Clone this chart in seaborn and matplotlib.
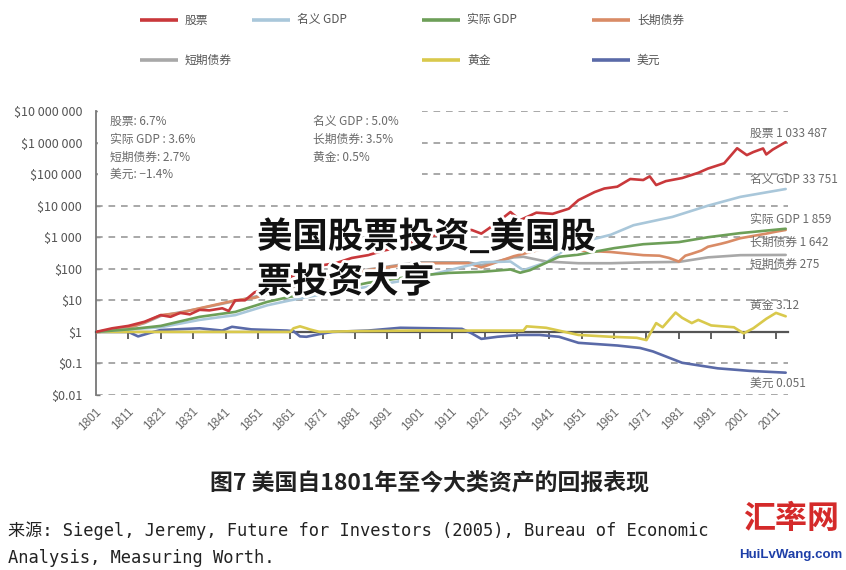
import matplotlib
matplotlib.use("Agg")
import matplotlib.pyplot as plt
import matplotlib.patheffects as pe
from matplotlib.lines import Line2D
from matplotlib.patches import Rectangle
from matplotlib.ticker import NullLocator
import seaborn as sns
import pandas as pd

# ---------------- data ----------------
series_names = ["美元", "黄金", "短期债券", "长期债券", "名义 GDP", "实际 GDP", "股票"]
series_colors = ["#5a6aa8", "#d9c94c", "#a8a8a8", "#d98b66", "#a9c7da", "#6d9f58", "#c9383b"]

stocks_years = [1801, 1806, 1811, 1816, 1821, 1824, 1827, 1830, 1833, 1836, 1840, 1842, 1844, 1847,
                1850, 1854, 1857, 1861, 1866, 1871, 1875, 1880, 1885, 1890, 1895, 1900, 1904, 1908,
                1913, 1917, 1920, 1922, 1925, 1929, 1932, 1937, 1942, 1947, 1950, 1955, 1958, 1962,
                1966, 1970, 1972, 1974, 1977, 1982, 1987, 1990, 1995, 1999, 2002, 2004, 2007, 2008,
                2010, 2014]
stocks = [1, 1.3, 1.55, 2.1, 3.4, 3.0, 4, 3.6, 5, 4.8, 5.6, 4.6, 10, 10,
          18, 24, 20, 55, 90, 130, 150, 220, 270, 380, 490, 800, 1000, 1350,
          1400, 1700, 1300, 1800, 3000, 6300, 3500, 6000, 5500, 8000, 15000, 27000, 35000, 40000,
          70000, 65000, 85000, 45000, 60000, 75000, 110000, 150000, 220000, 660000, 400000, 500000,
          650000, 420000, 600000, 1033487]

ngdp_years = [1801, 1811, 1821, 1833, 1844, 1854, 1861, 1870, 1885, 1900, 1910, 1920, 1929, 1933,
              1940, 1945, 1951, 1960, 1967, 1979, 1990, 2000, 2014]
ngdp = [1, 1.2, 1.4, 2.4, 3.4, 7, 10, 15, 27, 50, 90, 160, 170, 90,
        160, 350, 700, 1200, 2400, 4400, 10000, 19000, 33751]

rgdp_years = [1801, 1811, 1821, 1833, 1844, 1854, 1861, 1870, 1885, 1900, 1910, 1920, 1929, 1932,
              1935, 1944, 1950, 1961, 1970, 1981, 1990, 2000, 2014]
rgdp = [1, 1.2, 1.55, 3, 4.3, 9, 13, 17, 36, 60, 74, 80, 95, 75,
        90, 240, 280, 450, 600, 700, 1000, 1350, 1859]

bond_years = [1801, 1811, 1816, 1821, 1827, 1833, 1844, 1850, 1861, 1870, 1885, 1900, 1916, 1920,
              1930, 1940, 1950, 1960, 1970, 1975, 1978, 1981, 1983, 1985, 1988, 1990, 1994, 1996,
              2000, 2004, 2008, 2011, 2014]
bond = [1, 1.3, 2.0, 3.4, 4, 5.6, 10, 12, 27, 45, 90, 150, 150, 110,
        250, 450, 380, 340, 270, 260, 220, 170, 260, 300, 380, 500, 620, 700,
        930, 1100, 1300, 1500, 1700]

bill_years = [1801, 1811, 1816, 1821, 1827, 1833, 1844, 1850, 1861, 1870, 1885, 1900, 1916, 1920,
              1930, 1933, 1940, 1950, 1960, 1970, 1981, 1990, 2000, 2014]
bill = [1, 1.35, 1.9, 3.2, 4.2, 5.5, 9.5, 13, 25, 48, 95, 160, 160, 130,
        230, 240, 170, 150, 150, 160, 165, 230, 270, 275]

gold_years = [1801, 1861, 1862, 1864, 1866, 1867, 1870, 1880, 1900, 1933, 1934, 1940, 1950, 1960,
              1968, 1971, 1974, 1976, 1980, 1982, 1985, 1987, 1991, 1998, 2001, 2004, 2008, 2011, 2014]
gold = [1, 1, 1.3, 1.5, 1.3, 1.2, 1.0, 1.05, 1.1, 1.1, 1.5, 1.35, 0.8, 0.7,
        0.65, 0.55, 1.9, 1.4, 4.1, 2.8, 1.9, 2.4, 1.6, 1.4, 0.9, 1.3, 2.6, 4.0, 3.12]

usd_years = [1801, 1811, 1814, 1818, 1821, 1833, 1840, 1843, 1849, 1860, 1862, 1864, 1866, 1870,
             1874, 1885, 1895, 1905, 1914, 1917, 1920, 1925, 1932, 1938, 1944, 1950, 1962, 1969,
             1973, 1982, 1993, 2003, 2014]
usd = [1, 1, 0.72, 0.95, 1.15, 1.3, 1.1, 1.45, 1.2, 1.1, 1.05, 0.72, 0.7, 0.85,
       1.0, 1.1, 1.35, 1.3, 1.25, 0.9, 0.6, 0.7, 0.8, 0.8, 0.7, 0.45, 0.37, 0.31,
       0.24, 0.105, 0.07, 0.058, 0.051]

year_lists = [usd_years, gold_years, bill_years, bond_years, ngdp_years, rgdp_years, stocks_years]
value_lists = [usd, gold, bill, bond, ngdp, rgdp, stocks]

legend_row1 = ["股票", "名义 GDP", "实际 GDP", "长期债券"]
legend_row2 = ["短期债券", None, "黄金", "美元"]

cagr_left = ["股票: 6.7%", "实际 GDP : 3.6%", "短期债券: 2.7%", "美元: −1.4%"]
cagr_right = ["名义 GDP : 5.0%", "长期债券: 3.5%", "黄金: 0.5%"]

end_labels = ["股票 1 033 487", "名义 GDP 33 751", "实际 GDP 1 859", "长期债券 1 642",
              "短期债券 275", "黄金 3.12", "美元 0.051"]

ytick_vals = [0.01, 0.1, 1, 10, 100, 1000, 1e4, 1e5, 1e6, 1e7]
ytick_labels = ["$0.01", "$0.1", "$1", "$10", "$100", "$1 000", "$10 000", "$100 000",
                "$1 000 000", "$10 000 000"]
xtick_years = list(range(1801, 2012, 10))

title_text = "图7 美国自1801年至今大类资产的回报表现"
source_lines = ["来源: Siegel, Jeremy, Future for Investors (2005), Bureau of Economic",
                "Analysis, Measuring Worth."]
watermark_lines = ["美国股票投资_美国股", "票投资大亨"]

# ---------------- build frame ----------------
rows = []
for name, ys, vs in zip(series_names, year_lists, value_lists):
    for y, v in zip(ys, vs):
        rows.append({"year": y, "value": v, "series": name})
df = pd.DataFrame(rows)
palette = dict(zip(series_names, series_colors))

sns.set_theme(style="white")
plt.rcParams["font.family"] = ["Noto Sans CJK SC", "DejaVu Sans"]
plt.rcParams["axes.unicode_minus"] = True

W, H = 846, 570
fig = plt.figure(figsize=(W / 100, H / 100), dpi=100)
fig.patch.set_facecolor("white")

ax_l, ax_r, ax_t, ax_b = 96, 788, 111, 395
ax = fig.add_axes([ax_l / W, 1 - ax_b / H, (ax_r - ax_l) / W, (ax_b - ax_t) / H])
ax.set_facecolor("white")

sns.lineplot(data=df, x="year", y="value", hue="series", hue_order=series_names,
             palette=palette, estimator=None, sort=False, legend=False,
             linewidth=1.9, ax=ax, zorder=3)

ax.set_yscale("log")
ax.set_ylim(0.01, 1e7)
px_per_year = 3.238
ax.set_xlim(1801, 1801 + (ax_r - ax_l) / px_per_year)
ax.set_xlabel("")
ax.set_ylabel("")

# gridlines (dashed) at each decade except $1
for v in ytick_vals:
    if v != 1:
        ax.axhline(v, color="#9a9a9a", linestyle=(0, (4, 3.5)), linewidth=1.2, zorder=1)

# white box behind the growth-rate notes
ax.add_patch(Rectangle((0.003, (ax_b - 186) / (ax_b - ax_t)), (420 - ax_l) / (ax_r - ax_l),
                       1.0, transform=ax.transAxes, facecolor="white", edgecolor="none",
                       zorder=1.5, clip_on=False))

ax.yaxis.set_minor_locator(NullLocator())
ax.set_yticks(ytick_vals)
ax.set_yticklabels(ytick_labels)
ax.tick_params(axis="y", direction="in", length=3, width=1, color="#777777",
               labelsize=9, labelcolor="#555555", pad=10, left=True)

ax.spines["top"].set_visible(False)
ax.spines["right"].set_visible(False)
ax.spines["left"].set_color("#777777")
ax.spines["left"].set_linewidth(1.3)
ax.spines["bottom"].set_position(("data", 1))
ax.spines["bottom"].set_color("#555555")
ax.spines["bottom"].set_linewidth(1.6)
ax.spines["bottom"].set_zorder(2.5)

ax.set_xticks(xtick_years)
ax.tick_params(axis="x", direction="out", length=5, width=1.3, color="#555555",
               labelbottom=False, bottom=True)
for yr in xtick_years:
    ax.text(yr + 1.0, -0.052, str(yr), transform=ax.get_xaxis_transform(), rotation=45,
            rotation_mode="anchor", ha="right", va="center", fontsize=8.5, color="#666666",
            family=["Liberation Sans", "DejaVu Sans"])

# growth-rate notes
note_ys = [121, 139, 157, 174]
for i, t in enumerate(cagr_left):
    ax.text((110 - ax_l) / (ax_r - ax_l), (ax_b - note_ys[i]) / (ax_b - ax_t), t,
            transform=ax.transAxes, fontsize=8.5, color="#6a6a6a", va="center", ha="left", zorder=4)
for i, t in enumerate(cagr_right):
    ax.text((313 - ax_l) / (ax_r - ax_l), (ax_b - note_ys[i]) / (ax_b - ax_t), t,
            transform=ax.transAxes, fontsize=8.5, color="#6a6a6a", va="center", ha="left", zorder=4)

# end labels
end_ys = [133, 180, 220, 242, 264, 305, 383]
for t, yy in zip(end_labels, end_ys):
    ax.text((750 - ax_l) / (ax_r - ax_l), (ax_b - yy) / (ax_b - ax_t), t, transform=ax.transAxes,
            fontsize=8.5, color="#6a6a6a", va="center", ha="left", clip_on=False, zorder=4)

# legend (manual grid)
col_x = [140, 252, 422, 592]
for row_y, names in ((20, legend_row1), (60, legend_row2)):
    for cx, nm in zip(col_x, names):
        if nm is None:
            continue
        fy = 1 - row_y / H
        fig.add_artist(Line2D([cx / W, (cx + 38) / W], [fy, fy], transform=fig.transFigure,
                              color=palette[nm], linewidth=2.6, solid_capstyle="butt"))
        fig.text((cx + 45) / W, fy, nm, fontsize=8.5, color="#555555", va="center", ha="left")

# title and source
fig.text(430 / W, 1 - 484 / H, title_text, fontsize=16.5, fontweight="bold", color="#222222",
         ha="center", va="center")
for i, line in enumerate(source_lines):
    fig.text(8 / W, 1 - (531 + 27 * i) / H, line, fontsize=12.3, color="#222222",
             ha="left", va="center", family=["DejaVu Sans Mono", "Noto Sans CJK SC"])

# site logo
fig.text(791 / W, 1 - 519 / H, "汇率网", fontsize=23, color="#d42a2a", ha="center", va="center",
         fontweight="bold")
fig.text(791 / W, 1 - 555 / H, "HuiLvWang.com", fontsize=9.5, color="#1e3fa8", ha="center",
         va="center", fontweight="bold", family=["Liberation Sans", "DejaVu Sans"])

# overlay watermark text
for i, line in enumerate(watermark_lines):
    fig.text(257 / W, 1 - (237 + 45 * i) / H, line, fontsize=25.5, fontweight="heavy",
             color="#111111", ha="left", va="center",
             path_effects=[pe.withStroke(linewidth=4, foreground="white")], zorder=10)

fig.savefig("out.png", dpi=100, facecolor="white")
